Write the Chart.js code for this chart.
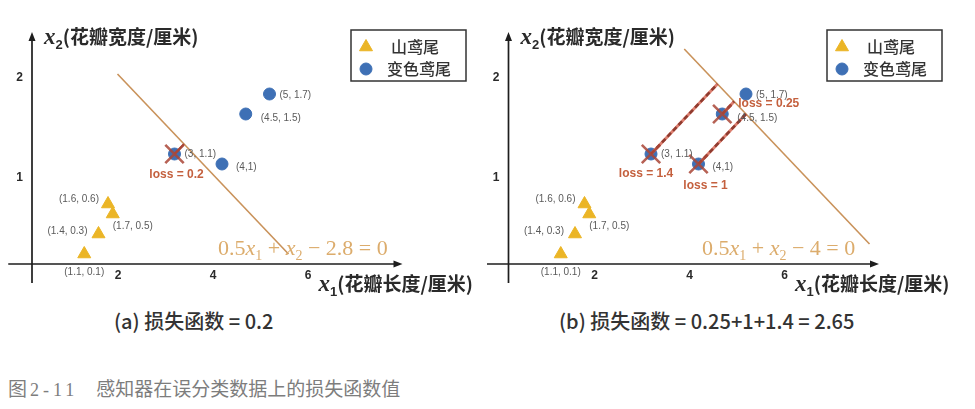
<!DOCTYPE html>
<html>
<head>
<meta charset="utf-8">
<script src="https://cdn.jsdelivr.net/npm/chart.js@4.4.1/dist/chart.umd.min.js"></script>
<style>
  html, body { margin: 0; padding: 0; background: #fff; }
  body { width: 975px; height: 409px; position: relative; overflow: hidden; font-family: "Noto Sans CJK SC", sans-serif; }
  canvas { position: absolute; top: 0; }
  #ca { left: 0; }
  #cb { left: 487px; }
  .sub { position: absolute; color: #333; font-size: 20px; font-weight: 500; white-space: pre; line-height: 1; }
  #capa { left: 114px; top: 311px; }
  #capb { left: 559px; top: 311px; }
  #fig { position: absolute; left: 8px; top: 378px; color: #7d7d7d; font-size: 19px; white-space: pre; line-height: 1; }
  #fig span { font-family: "Liberation Serif", serif; font-size: 18px; letter-spacing: 4px; margin-right: 18px; margin-left: 3px; }
</style>
</head>
<body>
<canvas id="ca" width="487" height="300"></canvas>
<canvas id="cb" width="488" height="300"></canvas>
<div class="sub" id="capa"></div>
<div class="sub" id="capb"></div>
<div id="fig">图<span>2-11</span>感知器在误分类数据上的损失函数值</div>
<script>
// ---- data ----
const seriesNames = ['山鸢尾', '变色鸢尾'];
const setosaX = [1.1, 1.4, 1.7, 1.6];
const setosaY = [0.1, 0.3, 0.5, 0.6];
const setosaText = ['(1.1, 0.1)', '(1.4, 0.3)', '(1.7, 0.5)', '(1.6, 0.6)'];
const versiX = [3, 4, 4.5, 5];
const versiY = [1.1, 1, 1.5, 1.7];
const versiText = ['(3, 1.1)', '(4,1)', '(4.5, 1.5)', '(5, 1.7)'];
const xTicks = [2, 4, 6];
const yTicks = [1, 2];

// panel (a): 0.5*x1 + x2 - 2.8 = 0
const biasA = 2.8;
const lineAX = [1.8, 5.4];
const lineAY = [1.9, 0.1];
const missAX = [3];
const missAY = [1.1];
const lossA = [0.2];
const footAX = [3.2];
const footAY = [1.2];

// panel (b): 0.5*x1 + x2 - 4 = 0
const biasB = 4;
const lineBX = [3.7, 7.6];
const lineBY = [2.15, 0.2];
const missBX = [4.5, 4, 3];
const missBY = [1.5, 1, 1.1];
const lossB = [0.25, 1, 1.4];
const footBX = [4.75, 5, 4.4];
const footBY = [1.625, 1.5, 1.8];

// ---- styling ----
const SX = 47.5, SY = 100;           // pixels per data unit
const COL_TRI = '#ebb526';
const COL_DOT = '#3e70b5';
const COL_LINE = '#c9925a';
const COL_LOSS = '#8f3b2f';
const COL_LOSS_TXT = '#c4603e';
const COL_EQ = '#dcac6c';
const COL_LABEL = '#5a5a5a';
const CJK = '"Noto Sans CJK SC"';

const pts = (xs, ys) => xs.map((x, i) => ({ x, y: ys[i] }));

function drawRuns(ctx, x, y, runs, color) {
  ctx.fillStyle = color;
  ctx.textBaseline = 'alphabetic';
  ctx.textAlign = 'left';
  for (const r of runs) {
    ctx.font = r.font;
    ctx.fillText(r.t, x, y + (r.dy || 0));
    x += ctx.measureText(r.t).width + (r.gap || 0);
  }
}

function eqRuns(bias) {
  const f = '22px "Liberation Serif"', fi = 'italic 22px "Liberation Serif"', fs = '14px "Liberation Serif"';
  return [
    { t: '0.5', font: f }, { t: 'x', font: fi }, { t: '1', font: fs, dy: 5 },
    { t: ' + ', font: f }, { t: 'x', font: fi }, { t: '2', font: fs, dy: 5 },
    { t: ' − ' + bias + ' = 0', font: f }
  ];
}

function axisTitle(sub) {
  return [
    { t: 'x', font: 'italic bold 23px "Liberation Serif"' },
    { t: sub, font: 'bold 13px "Liberation Sans"', dy: 5 },
    { t: sub === '2' ? '(花瓣宽度/厘米)' : '(花瓣长度/厘米)', font: 'bold 19px ' + CJK }
  ];
}

// overlay: arrowed axes, titles, legend box, annotations
const overlay = {
  id: 'overlay',
  beforeDatasetsDraw(chart) {
    const p = chart.options.plugins.overlay;
    const { ctx, scales: { x, y } } = chart;
    const x0 = x.getPixelForValue(0), y0 = y.getPixelForValue(0);
    const xl = x.getPixelForValue(p.axisX[0]), xr = x.getPixelForValue(p.axisX[1]);
    const yb = y.getPixelForValue(p.axisY[0]), yt = y.getPixelForValue(p.axisY[1]);
    ctx.save();
    ctx.strokeStyle = '#1e1e1e';
    ctx.fillStyle = '#1e1e1e';
    ctx.lineWidth = 1.7;
    ctx.beginPath();
    ctx.moveTo(xl, y0); ctx.lineTo(xr - 6, y0);
    ctx.moveTo(x0, yb); ctx.lineTo(x0, yt + 6);
    ctx.stroke();
    ctx.beginPath();
    ctx.moveTo(xr, y0); ctx.lineTo(xr - 9, y0 - 3.5); ctx.lineTo(xr - 9, y0 + 3.5); ctx.closePath();
    ctx.moveTo(x0, yt); ctx.lineTo(x0 - 3.5, yt + 9); ctx.lineTo(x0 + 3.5, yt + 9); ctx.closePath();
    ctx.fill();
    ctx.restore();
  },
  afterDraw(chart) {
    const p = chart.options.plugins.overlay;
    const { ctx, scales: { x, y } } = chart;
    ctx.save();
    // axis titles
    const x0 = x.getPixelForValue(0), y0 = y.getPixelForValue(0);
    drawRuns(ctx, x0 + 12, y.getPixelForValue(p.axisY[1]) + 12, axisTitle('2'), '#2a2a2a');
    drawRuns(ctx, x.getPixelForValue(p.axisX[1]) - 84, y0 + 27, axisTitle('1'), '#2a2a2a');

    // point coordinate labels
    ctx.font = '10px "Liberation Sans"';
    ctx.fillStyle = COL_LABEL;
    ctx.textBaseline = 'middle';
    const lab = (xs, ys, texts, offs) => xs.forEach((v, i) => {
      const o = offs[i];
      ctx.textAlign = o[2];
      ctx.fillText(texts[i], x.getPixelForValue(v) + o[0], y.getPixelForValue(ys[i]) + o[1]);
    });
    lab(setosaX, setosaY, setosaText, [[0, 18, 'center'], [-11, -3, 'right'], [0, 12, 'left'], [-9, -5, 'right']]);
    lab(versiX, versiY, versiText, [[10, 0, 'left'], [14, 3, 'left'], [15, 4, 'left'], [10, 1, 'left']]);

    // loss labels
    ctx.font = 'bold 12px "Liberation Sans"';
    ctx.fillStyle = COL_LOSS_TXT;
    p.miss.forEach((m, i) => {
      const o = p.lossOff[i];
      ctx.textAlign = o[2];
      ctx.fillText('loss = ' + m[2], x.getPixelForValue(m[0]) + o[0], y.getPixelForValue(m[1]) + o[1]);
    });

    // decision boundary equation
    drawRuns(ctx, p.eqPos[0], p.eqPos[1], eqRuns(p.bias), COL_EQ);

    // legend
    const L = p.legend;
    ctx.strokeStyle = '#333';
    ctx.lineWidth = 1.5;
    ctx.strokeRect(L[0], L[1], 115, 51);
    const ds = chart.data.datasets;
    [0, 1].forEach(k => {
      const d = ds[k];
      ctx.fillStyle = d.backgroundColor;
      ctx.strokeStyle = d.borderColor;
      ctx.lineWidth = 1;
      Chart.helpers.drawPoint(ctx, { pointStyle: d.pointStyle, radius: d.pointRadius, borderWidth: 1, rotation: 0 },
        L[0] + 15, L[1] + 17 + k * 22);
      ctx.fillStyle = '#333';
      ctx.font = '500 16px ' + CJK;
      ctx.textAlign = 'left';
      ctx.textBaseline = 'middle';
      ctx.fillText(d.label, L[0] + 40 - k * 4, L[1] + 17 + k * 22);
    });
    ctx.restore();
  }
};

function build(canvasId, o) {
  const datasets = [
    { label: seriesNames[0], data: pts(setosaX, setosaY), pointStyle: 'triangle', pointRadius: 7.5,
      backgroundColor: COL_TRI, borderColor: COL_TRI, borderWidth: 1, order: 2 },
    { label: seriesNames[1], data: pts(versiX, versiY), pointStyle: 'circle', pointRadius: 6,
      backgroundColor: COL_DOT, borderColor: COL_DOT, borderWidth: 1, order: 2 },
    { type: 'line', label: 'boundary', data: pts(o.lineX, o.lineY), borderColor: COL_LINE, borderWidth: 1.6,
      pointRadius: 0, fill: false, order: 3 }
  ];
  // distance from each misclassified point to the boundary
  o.missX.forEach((mx, i) => {
    const seg = [{ x: mx, y: o.missY[i] }, { x: o.footX[i], y: o.footY[i] }];
    if (o.dashed) {
      datasets.push({ type: 'line', label: 'loss-under', data: seg, borderColor: '#dc7f70', borderWidth: 3,
        pointRadius: 0, fill: false, order: 1.5 });
      datasets.push({ type: 'line', label: 'loss-dash', data: seg, borderColor: COL_LOSS, borderWidth: 2.6,
        borderDash: [5, 3], pointRadius: 0, fill: false, order: 1 });
    } else {
      datasets.push({ type: 'line', label: 'loss', data: seg, borderColor: '#a9483a', borderWidth: 2,
        pointRadius: 0, fill: false, order: 1 });
    }
  });
  datasets.push({ label: 'misclassified', data: pts(o.missX, o.missY), pointStyle: 'crossRot', pointRadius: 13,
    borderColor: 'rgba(170,70,55,0.85)', borderWidth: 2.6, backgroundColor: 'transparent', order: 0 });

  const tickFont = { family: 'Liberation Sans', weight: 'bold', size: 12 };
  const chart = new Chart(document.getElementById(canvasId), {
    type: 'scatter',
    data: { datasets },
    options: {
      responsive: false, animation: false, devicePixelRatio: 1,
      layout: { padding: 0 },
      events: [],
      plugins: {
        legend: { display: false }, tooltip: { enabled: false },
        overlay: {
          axisX: [-0.5, 7.8], axisY: [-0.19, 2.32], bias: o.bias,
          miss: o.missX.map((v, i) => [v, o.missY[i], o.loss[i]]), lossOff: o.lossOff,
          eqPos: o.eqPos, legend: o.legend
        }
      },
      scales: {
        x: {
          type: 'linear', min: -0.7, max: 9.5, position: { y: 0 },
          grid: { display: false, drawTicks: false }, border: { display: false },
          afterBuildTicks: s => { s.ticks = xTicks.map(v => ({ value: v })); },
          ticks: { font: tickFont, color: '#2a2a2a', padding: 4, labelOffset: -9 }
        },
        y: {
          type: 'linear', min: -0.36, max: 2.64, position: { x: 0 },
          grid: { display: false, drawTicks: false }, border: { display: false },
          afterBuildTicks: s => { s.ticks = yTicks.map(v => ({ value: v })); },
          // the axis sits inside the plot, so keep the labels clear of it with a figure space
          ticks: { font: tickFont, color: '#2a2a2a', labelOffset: 14, callback: v => v + '\u2007\u2009' }
        }
      }
    },
    plugins: [overlay]
  });
  // fix the data range so that the origin and unit lengths land where intended
  const ca = chart.chartArea;
  const sc = chart.options.scales;
  sc.x.min = (ca.left - o.x0) / SX;
  sc.x.max = (ca.right - o.x0) / SX;
  sc.y.max = (o.y0 - ca.top) / SY;
  sc.y.min = (o.y0 - ca.bottom) / SY;
  chart.update();
  return chart;
}

build('ca', {
  x0: 32, y0: 264, bias: biasA, lineX: lineAX, lineY: lineAY,
  missX: missAX, missY: missAY, loss: lossA, footX: footAX, footY: footAY, dashed: false,
  lossOff: [[2, 21, 'center']], eqPos: [218, 255], legend: [351, 30]
});
build('cb', {
  x0: 21.5, y0: 264, bias: biasB, lineX: lineBX, lineY: lineBY,
  missX: missBX, missY: missBY, loss: lossB, footX: footBX, footY: footBY, dashed: true,
  lossOff: [[16, -10, 'left'], [7, 22, 'center'], [-5, 20, 'center']], eqPos: [215, 255], legend: [340, 30]
});

document.getElementById('capa').textContent = '(a) 损失函数 = ' + lossA.reduce((a, b) => a + b, 0);
document.getElementById('capb').textContent = '(b) 损失函数 = ' + lossB.join('+') + ' = ' +
  Number(lossB.reduce((a, b) => a + b, 0).toFixed(2));
</script>
</body>
</html>
